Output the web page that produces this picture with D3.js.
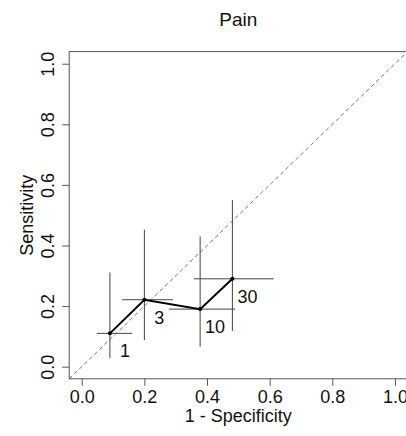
<!DOCTYPE html>
<html>
<head>
<meta charset="utf-8">
<script src="https://cdn.jsdelivr.net/npm/d3@7"></script>
<style>
  body { margin: 0; background: #fff; }
  text { font-family: "Liberation Sans", Arial, sans-serif; fill: #111; }
</style>
</head>
<body>
<svg id="chart" width="406" height="436"></svg>
<script>
// cut-off labels and ROC points with confidence limits
const cutoffs = ["1", "3", "10", "30"];
const fpr = [0.090, 0.200, 0.378, 0.481];
const fprLow = [0.048, 0.129, 0.279, 0.358];
const fprHigh = [0.161, 0.291, 0.490, 0.613];
const sens = [0.110, 0.221, 0.190, 0.290];
const sensLow = [0.028, 0.088, 0.066, 0.118];
const sensHigh = [0.311, 0.452, 0.430, 0.550];
const ticks = [0, 0.2, 0.4, 0.6, 0.8, 1.0];

const svg = d3.select('#chart');
const x = d3.scaleLinear().domain([-0.04, 1.04]).range([69.2, 407.5]);
const y = d3.scaleLinear().domain([-0.04, 1.04]).range([378.8, 51.6]);

const points = cutoffs.map((c, i) => ({
    label: c, x: fpr[i], y: sens[i],
    x0: fprLow[i], x1: fprHigh[i], y0: sensLow[i], y1: sensHigh[i]
}));

svg.append('defs').append('clipPath').attr('id', 'plotclip')
    .append('rect')
    .attr('x', x(-0.04)).attr('y', y(1.04))
    .attr('width', x(1.04) - x(-0.04)).attr('height', y(-0.04) - y(1.04));

// diagonal reference line
svg.append('line')
    .attr('clip-path', 'url(#plotclip)')
    .attr('x1', x(-0.04)).attr('y1', y(-0.04))
    .attr('x2', x(1.04)).attr('y2', y(1.04))
    .attr('stroke', '#777').attr('stroke-width', 1)
    .attr('stroke-dasharray', '4,3');

// error bars
let bars = svg.append('g').attr('stroke', '#444').attr('stroke-width', 1);
bars.selectAll('.vbar').data(points).enter().append('line')
    .attr('x1', d => x(d.x)).attr('x2', d => x(d.x))
    .attr('y1', d => y(d.y0)).attr('y2', d => y(d.y1));
bars.selectAll('.hbar').data(points).enter().append('line')
    .attr('y1', d => y(d.y)).attr('y2', d => y(d.y))
    .attr('x1', d => x(d.x0)).attr('x2', d => x(d.x1));

// connecting line
let line = d3.line().x(d => x(d.x)).y(d => y(d.y));
svg.append('path')
    .datum(points)
    .attr('d', line)
    .attr('fill', 'none')
    .attr('stroke', '#000')
    .attr('stroke-width', 2);

svg.selectAll('.pt').data(points).enter().append('circle')
    .attr('cx', d => x(d.x)).attr('cy', d => y(d.y))
    .attr('r', 2).attr('fill', '#000');

svg.selectAll('.lbl').data(points).enter().append('text')
    .attr('x', d => x(d.x) + 15)
    .attr('y', d => y(d.y) + 24)
    .attr('text-anchor', 'middle')
    .style('font-size', '18px')
    .text(d => d.label);

// box
svg.append('rect')
    .attr('x', x(-0.04)).attr('y', y(1.04))
    .attr('width', x(1.04) - x(-0.04)).attr('height', y(-0.04) - y(1.04))
    .attr('fill', 'none').attr('stroke', '#555').attr('stroke-width', 1);

// axes
let xAxis = svg.append('g')
    .attr('transform', 'translate(0,' + y(-0.04) + ')')
    .call(d3.axisBottom(x).tickValues(ticks).tickFormat(d3.format('.1f')).tickSize(7).tickPadding(4));
let yAxis = svg.append('g')
    .attr('transform', 'translate(' + x(-0.04) + ',0)')
    .call(d3.axisLeft(y).tickValues(ticks).tickFormat(d3.format('.1f')).tickSize(7).tickPadding(3));
[xAxis, yAxis].forEach(a => {
    a.select('.domain').remove();
    a.selectAll('.tick line').attr('stroke', '#555');
    a.selectAll('.tick text')
        .style('font-size', '18px')
        .style('font-family', '"Liberation Sans", Arial, sans-serif')
        .attr('fill', '#111');
});
// R-style rotated y tick labels
yAxis.selectAll('.tick text')
    .attr('x', null).attr('dy', null)
    .attr('text-anchor', 'middle')
    .attr('transform', 'translate(-15,0) rotate(-90)');

svg.append('text')
    .attr('x', (x(-0.04) + x(1.04)) / 2).attr('y', 26)
    .attr('text-anchor', 'middle')
    .style('font-size', '19px')
    .text('Pain');

svg.append('text')
    .attr('x', (x(-0.04) + x(1.04)) / 2).attr('y', 422)
    .attr('text-anchor', 'middle')
    .style('font-size', '18px')
    .text('1 - Specificity');

svg.append('text')
    .attr('transform', 'translate(33,' + ((y(-0.04) + y(1.04)) / 2) + ') rotate(-90)')
    .attr('text-anchor', 'middle')
    .style('font-size', '18px')
    .text('Sensitivity');
</script>
</body>
</html>
